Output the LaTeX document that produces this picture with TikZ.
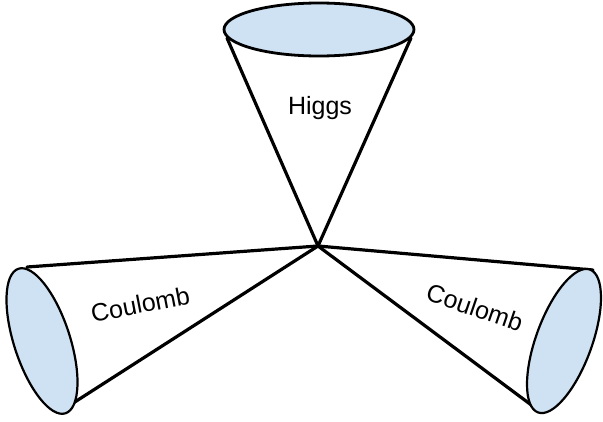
\documentclass[tikz,border=0pt]{standalone}
\usepackage{fontspec}
\setmainfont{Liberation Sans}
\definecolor{conefill}{HTML}{CFE2F3}
\begin{document}
\begin{tikzpicture}[x=1pt,y=-1pt,
  coneline/.style={line width=3.2pt,line cap=round},
  rim/.style={line width=2.2pt,fill=conefill},
  label/.style={font=\fontsize{25}{30}\selectfont,inner sep=0pt,anchor=base}]
\useasboundingbox (0,0) rectangle (603,421);
\coordinate (A) at (318,246);
% tangent ends
\coordinate (T1) at (227,38);
\coordinate (T2) at (411,38);
\coordinate (L1) at (27,267);
\coordinate (L2) at (67,407);
\coordinate (R1) at (593,270);
\coordinate (R2) at (534,407);
\draw[coneline] (A) -- (T1);
\draw[coneline] (A) -- (T2);
\draw[coneline] (A) -- (L1);
\draw[coneline] (A) -- (L2);
\draw[coneline] (A) -- (R1);
\draw[coneline] (A) -- (R2);
% rims
\draw[rim,line width=2.8pt] (319,29.5) ellipse [x radius=95pt, y radius=26.5pt];
\draw[rim,shift={(42,341)},rotate=18] (0,0) ellipse [x radius=28pt, y radius=76pt];
\draw[rim,shift={(564,341)},rotate=-20] (0,0) ellipse [x radius=28pt, y radius=76pt];
% labels
\node[label] (higgs) at (320,114) {Higgs};
\node[label,rotate=11] (coulL) at (142,313) {Coulomb};
\node[label,rotate=-19] (coulR) at (472,316) {Coulomb};
\end{tikzpicture}
\end{document}
